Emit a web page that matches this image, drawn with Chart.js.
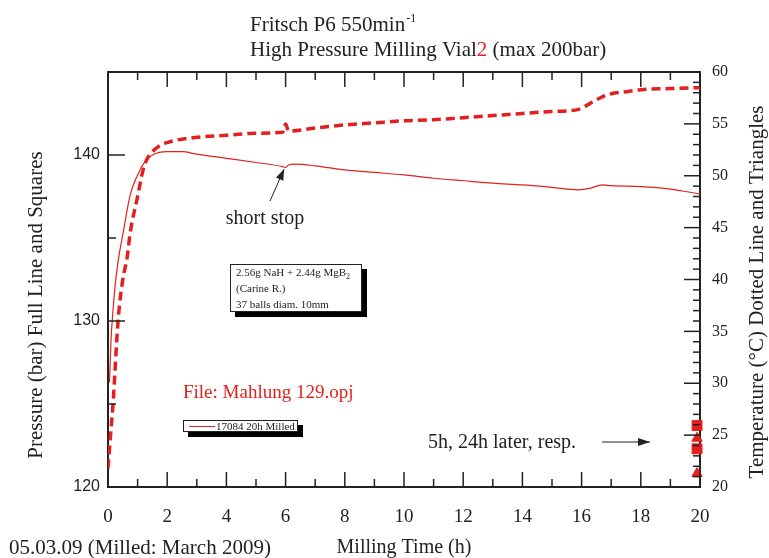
<!DOCTYPE html>
<html>
<head>
<meta charset="utf-8">
<script src="https://cdn.jsdelivr.net/npm/chart.js@4.4.1/dist/chart.umd.min.js"></script>
<style>
  html, body { margin: 0; padding: 0; background: #fff; }
  #wrap { position: relative; width: 769px; height: 558px; }
</style>
</head>
<body>
<div id="wrap"><canvas id="millChart" width="769" height="558"></canvas></div>
<script>
// run 17084, 20h milled -- pressure (bar) and temperature (°C) vs milling time (h)
const pressTime   = [0.05, 0.1, 0.15, 0.25, 0.35, 0.5, 0.75, 1.0, 1.25, 1.5, 2.0, 2.5, 3, 4, 5, 5.9, 6.0, 6.1, 6.3, 7, 8, 9, 10, 11, 12, 13, 14, 15, 15.9, 16.3, 16.7, 17, 18, 19, 20];
const pressValues = [126.3, 128.8, 130.2, 132.3, 133.7, 135.2, 137.6, 138.8, 139.6, 140.0, 140.2, 140.2, 140.05, 139.8, 139.55, 139.3, 139.25, 139.4, 139.45, 139.35, 139.1, 138.95, 138.8, 138.6, 138.45, 138.3, 138.2, 138.05, 137.9, 138.0, 138.2, 138.15, 138.1, 137.95, 137.65];

const tempTime   = [0, 0.1, 0.17, 0.34, 0.5, 0.64, 0.75, 1.0, 1.18, 1.3, 1.65, 2.0, 3, 4, 5, 5.9, 6.0, 6.1, 7, 8, 9, 10, 11, 12, 13, 14, 15, 15.9, 16.3, 16.7, 17, 17.5, 18, 19, 20];
const tempValues = [21.8, 25.5, 28, 36, 40, 42, 44.5, 48, 50.5, 51.5, 52.7, 53.2, 53.7, 53.9, 54.1, 54.2, 55.0, 54.3, 54.6, 54.9, 55.1, 55.3, 55.4, 55.6, 55.8, 56.0, 56.2, 56.4, 57.0, 57.6, 57.9, 58.1, 58.3, 58.4, 58.5];

// readings 5h and 24h after the end of milling
const laterTime  = [19.9, 19.9];
const laterPress = [123.7, 122.3];
const laterTemp  = [24.7, 21.3];

const timeTicks  = [0, 2, 4, 6, 8, 10, 12, 14, 16, 18, 20];
const pressTicks = [120, 130, 140];
const tempTicks  = [20, 25, 30, 35, 40, 45, 50, 55, 60];

const RED = '#e3201f';
const INK = '#222';
const SERIF = '"Liberation Serif", "Times New Roman", serif';
const SANS = '"Liberation Sans", Arial, sans-serif';

function zip(xs, ys) {
  return xs.map((x, i) => ({ x: x, y: ys[i] }));
}

function line(ctx, x1, y1, x2, y2) {
  ctx.beginPath();
  ctx.moveTo(x1, y1);
  ctx.lineTo(x2, y2);
  ctx.stroke();
}

function arrow(ctx, x1, y1, x2, y2, len, half) {
  line(ctx, x1, y1, x2, y2);
  const a = Math.atan2(y2 - y1, x2 - x1);
  ctx.beginPath();
  ctx.moveTo(x2, y2);
  ctx.lineTo(x2 - len * Math.cos(a) + half * Math.sin(a), y2 - len * Math.sin(a) - half * Math.cos(a));
  ctx.lineTo(x2 - len * Math.cos(a) - half * Math.sin(a), y2 - len * Math.sin(a) + half * Math.cos(a));
  ctx.closePath();
  ctx.fill();
}

// frame, inward ticks and all the loose text of the original plot
const decorations = {
  id: 'decorations',
  afterDraw(chart) {
    const { ctx, chartArea: a, scales } = chart;
    const x = scales.x, yP = scales.y, yT = scales.y2;
    ctx.save();

    ctx.strokeStyle = INK;
    ctx.lineWidth = 2;
    line(ctx, a.left, a.top, a.right, a.top);

    ctx.lineWidth = 1.5;
    for (let v = 0; v <= 20; v++) {
      const px = x.getPixelForValue(v);
      const len = v % 2 === 0 ? 15 : 8;
      line(ctx, px, a.bottom, px, a.bottom - len);
      line(ctx, px, a.top, px, a.top + len);
    }
    for (let v = 120; v <= 145; v += 5) {
      const py = yP.getPixelForValue(v);
      line(ctx, a.left, py, a.left + (v % 10 === 0 ? 17 : 8), py);
    }
    for (let v = 20; v <= 60; v++) {
      const py = yT.getPixelForValue(v);
      line(ctx, a.right, py, a.right - (v % 5 === 0 ? 16 : 7), py);
    }

    ctx.fillStyle = INK;
    ctx.textBaseline = 'alphabetic';
    ctx.textAlign = 'left';

    // title
    ctx.font = '21px ' + SERIF;
    ctx.fillText('Fritsch P6 550min', 250, 31);
    let w = ctx.measureText('Fritsch P6 550min').width;
    ctx.font = '12px ' + SERIF;
    ctx.fillText('-1', 250 + w + 1, 22);
    ctx.font = '21px ' + SERIF;
    let tx = 250;
    ctx.fillText('High Pressure Milling Vial', tx, 56);
    tx += ctx.measureText('High Pressure Milling Vial').width;
    ctx.fillStyle = RED;
    ctx.fillText('2', tx, 56);
    tx += ctx.measureText('2').width;
    ctx.fillStyle = INK;
    ctx.fillText(' (max 200bar)', tx, 56);

    // axis titles
    ctx.textAlign = 'center';
    ctx.font = '21px ' + SERIF;
    ctx.save();
    ctx.translate(42, 305);
    ctx.rotate(-Math.PI / 2);
    ctx.fillText('Pressure (bar) Full Line and Squares', 0, 0);
    ctx.restore();
    ctx.save();
    ctx.translate(763, 292);
    ctx.rotate(-Math.PI / 2);
    ctx.fillText('Temperature (\u00B0C) Dotted Line and Triangles', 0, 0);
    ctx.restore();

    ctx.font = '20px ' + SERIF;
    ctx.fillText('Milling Time (h)', (a.left + a.right) / 2, 553);
    ctx.textAlign = 'left';
    ctx.font = '21px ' + SERIF;
    ctx.fillText('05.03.09 (Milled: March 2009)', 9, 554);

    // short stop note
    ctx.font = '20px ' + SERIF;
    ctx.textAlign = 'center';
    ctx.fillText('short stop', 265, 224);
    ctx.fillStyle = INK;
    ctx.lineWidth = 1;
    arrow(ctx, 270, 201, x.getPixelForValue(5.95), yP.getPixelForValue(139.15), 11, 4);

    // later readings note
    ctx.textAlign = 'left';
    ctx.fillText('5h, 24h later, resp.', 428, 448);
    ctx.lineWidth = 1.2;
    arrow(ctx, 602, 442, 650, 442, 12, 4);

    // file name
    ctx.fillStyle = RED;
    ctx.font = '19px ' + SERIF;
    ctx.fillText('File: Mahlung 129.opj', 183, 398);

    // sample box with shadow
    ctx.fillStyle = '#000';
    ctx.fillRect(235, 269, 132, 48);
    ctx.fillStyle = '#fff';
    ctx.fillRect(230, 264, 132, 48);
    ctx.strokeStyle = INK;
    ctx.lineWidth = 1;
    ctx.strokeRect(230.5, 264.5, 131, 47);
    ctx.fillStyle = INK;
    ctx.font = '11px ' + SERIF;
    ctx.fillText('2.56g NaH + 2.44g MgB', 236, 276);
    w = ctx.measureText('2.56g NaH + 2.44g MgB').width;
    ctx.font = '8px ' + SERIF;
    ctx.fillText('2', 236 + w, 279);
    ctx.font = '11px ' + SERIF;
    ctx.fillText('(Carine R.)', 236, 292);
    ctx.fillText('37 balls diam. 10mm', 236, 308);

    // legend with shadow
    ctx.fillStyle = '#000';
    ctx.fillRect(188, 425, 115, 12);
    ctx.fillStyle = '#fff';
    ctx.fillRect(183, 420, 115, 12);
    ctx.strokeRect(183.5, 420.5, 114, 11);
    ctx.strokeStyle = RED;
    line(ctx, 189, 426.5, 215, 426.5);
    ctx.fillStyle = INK;
    ctx.font = '11px ' + SERIF;
    ctx.fillText('17084 20h Milled', 216, 430);

    ctx.restore();
  }
};

const ctx = document.getElementById('millChart').getContext('2d');
new Chart(ctx, {
  type: 'line',
  data: {
    datasets: [
      {
        label: 'Pressure',
        data: zip(pressTime, pressValues),
        yAxisID: 'y',
        borderColor: RED,
        borderWidth: 1.2,
        pointRadius: 0,
        cubicInterpolationMode: 'monotone',
        fill: false
      },
      {
        label: 'Temperature',
        data: zip(tempTime, tempValues),
        yAxisID: 'y2',
        borderColor: RED,
        borderWidth: 3.5,
        borderDash: [9, 5],
        pointRadius: 0,
        cubicInterpolationMode: 'monotone',
        fill: false
      },
      {
        label: 'Pressure later',
        data: zip(laterTime, laterPress),
        yAxisID: 'y',
        showLine: false,
        clip: false,
        pointStyle: 'rect',
        pointRadius: 7,
        backgroundColor: RED,
        borderColor: RED
      },
      {
        label: 'Temperature later',
        data: zip(laterTime, laterTemp),
        yAxisID: 'y2',
        showLine: false,
        clip: false,
        pointStyle: 'triangle',
        pointRadius: 6,
        backgroundColor: RED,
        borderColor: RED
      }
    ]
  },
  options: {
    responsive: false,
    animation: false,
    devicePixelRatio: 1,
    layout: { padding: { top: 72, left: 0, right: 0, bottom: 0 } },
    plugins: {
      legend: { display: false },
      tooltip: { enabled: false }
    },
    scales: {
      x: {
        type: 'linear',
        min: 0,
        max: 20,
        afterBuildTicks: s => { s.ticks = timeTicks.map(v => ({ value: v })); },
        afterFit: s => { s.height = 71; },
        ticks: { font: { family: SERIF, size: 19 }, color: INK, padding: 19, maxRotation: 0 },
        grid: { drawOnChartArea: false, drawTicks: false },
        border: { color: INK, width: 2 }
      },
      y: {
        position: 'left',
        min: 120,
        max: 145,
        afterBuildTicks: s => { s.ticks = pressTicks.map(v => ({ value: v })); },
        afterFit: s => { s.width = 108; },
        ticks: { font: { family: SANS, size: 16 }, color: INK, padding: 8 },
        grid: { drawOnChartArea: false, drawTicks: false },
        border: { color: INK, width: 2 }
      },
      y2: {
        position: 'right',
        min: 20,
        max: 60,
        afterBuildTicks: s => { s.ticks = tempTicks.map(v => ({ value: v })); },
        afterFit: s => { s.width = 69; },
        ticks: { font: { family: SERIF, size: 16 }, color: INK, padding: 12 },
        grid: { drawOnChartArea: false, drawTicks: false },
        border: { color: INK, width: 2 }
      }
    }
  },
  plugins: [decorations]
});
</script>
</body>
</html>
